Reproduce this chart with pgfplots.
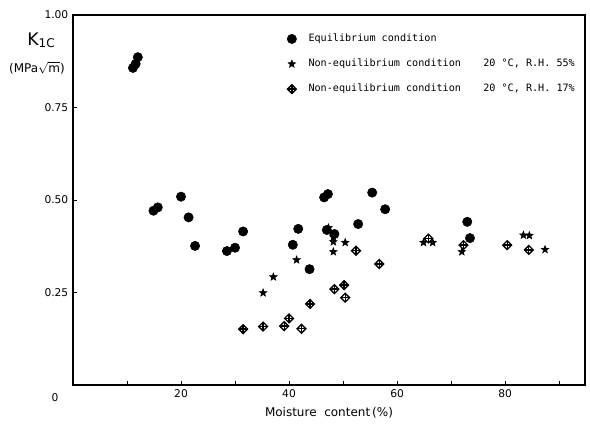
\documentclass[border=0pt]{standalone}
\usepackage{fontspec}
\usepackage{amsmath}
\usepackage{pgfplots}
\pgfplotsset{compat=1.18}
\setmainfont{DejaVu Sans}
\newfontfamily\legfont{DejaVu Sans Mono}

% filled five-point star
\pgfdeclareplotmark{fstar}{%
  \pgfpathmoveto{\pgfpointpolar{90}{\pgfplotmarksize}}%
  \pgfpathlineto{\pgfpointpolar{126}{0.42\pgfplotmarksize}}%
  \pgfpathlineto{\pgfpointpolar{162}{\pgfplotmarksize}}%
  \pgfpathlineto{\pgfpointpolar{198}{0.42\pgfplotmarksize}}%
  \pgfpathlineto{\pgfpointpolar{234}{\pgfplotmarksize}}%
  \pgfpathlineto{\pgfpointpolar{270}{0.42\pgfplotmarksize}}%
  \pgfpathlineto{\pgfpointpolar{306}{\pgfplotmarksize}}%
  \pgfpathlineto{\pgfpointpolar{342}{0.42\pgfplotmarksize}}%
  \pgfpathlineto{\pgfpointpolar{18}{\pgfplotmarksize}}%
  \pgfpathlineto{\pgfpointpolar{54}{0.42\pgfplotmarksize}}%
  \pgfpathclose
  \pgfusepathqfillstroke}

% diamond with a cross inside
\pgfdeclareplotmark{dplus}{%
  \pgfpathmoveto{\pgfqpoint{0pt}{\pgfplotmarksize}}%
  \pgfpathlineto{\pgfqpoint{\pgfplotmarksize}{0pt}}%
  \pgfpathlineto{\pgfqpoint{0pt}{-\pgfplotmarksize}}%
  \pgfpathlineto{\pgfqpoint{-\pgfplotmarksize}{0pt}}%
  \pgfpathclose
  \pgfusepathqfillstroke
  \pgfpathmoveto{\pgfqpoint{0pt}{\pgfplotmarksize}}%
  \pgfpathlineto{\pgfqpoint{0pt}{-\pgfplotmarksize}}%
  \pgfpathmoveto{\pgfqpoint{-\pgfplotmarksize}{0pt}}%
  \pgfpathlineto{\pgfqpoint{\pgfplotmarksize}{0pt}}%
  \pgfusepathqstroke}

\begin{document}
\begin{tikzpicture}[x=0.75pt,y=0.75pt]
\begin{axis}[
    scale only axis,
    width=384pt,
    height=277.5pt,
    at={(0,0)}, anchor=south west,
    xmin=0, xmax=94.8,
    ymin=0, ymax=1,
    axis line style={line width=0.9pt},
    tick style={black, line width=0.7pt},
    tick align=inside,
    major tick length=3pt,
    minor tick length=3pt,
    xtick={20,40,60,80},
    minor xtick={10,30,50,70,90},
    ytick={0.25,0.5,0.75,1},
    yticklabels={0.25,0.50,0.75,1.00},
    xtick pos=bottom,
    ytick pos=left,
    ticklabel style={font=\fontsize{8}{9}\selectfont},
    /pgf/number format/assume math mode=true,
    xlabel={Moisture\ \ content\,(\%)},
    xlabel style={font=\fontsize{9}{10}\selectfont, yshift=0pt},
    legend style={at={(0.41,0.96)}, anchor=north west, draw=none, fill=none,
        font=\legfont\fontsize{7.6}{9}\selectfont, row sep=9.5pt,
        nodes={inner sep=1pt},
        /tikz/every odd column/.append style={column sep=8pt}},
    legend cell align=left,
    legend image code/.code={\draw[#1] plot coordinates {(0.1cm,0cm)};},
]
\addplot[only marks, mark=*, mark size=3.5pt, black] coordinates {
(11.1,0.857) (11.6,0.868) (12.0,0.886) (14.9,0.471) (15.7,0.480)
(20.0,0.509) (21.4,0.453) (22.6,0.376) (28.5,0.362) (30.0,0.371)
(31.5,0.415) (40.7,0.379) (41.7,0.422) (43.8,0.313) (46.5,0.507)
(47.2,0.516) (47.0,0.419) (48.4,0.408) (52.8,0.435) (55.4,0.520)
(57.8,0.475) (73.0,0.441) (73.5,0.397)};
\addlegendentry{Equilibrium condition}
\addplot[only marks, mark=fstar, mark size=3pt, black, fill=black] coordinates {
(35.2,0.249) (37.1,0.292) (41.4,0.338) (47.3,0.425) (48.2,0.400)
(48.2,0.387) (48.2,0.360) (50.4,0.385) (64.9,0.385) (66.6,0.385)
(72.0,0.360) (83.4,0.405) (84.5,0.404) (87.4,0.366)};
\addlegendentry{Non-equilibrium condition\hspace{2.2em}20 °C, R.H. 55\%}
\addplot[only marks, mark=dplus, mark size=3.3pt, black, fill=white,
    mark options={line width=1pt}] coordinates {
(31.5,0.151) (35.2,0.158) (39.1,0.159) (40.0,0.180) (42.3,0.152)
(43.9,0.219) (48.4,0.259) (50.2,0.270) (50.4,0.236) (52.4,0.363)
(56.7,0.327) (65.8,0.396) (72.3,0.378) (80.4,0.378) (84.4,0.365)};
\addlegendentry{Non-equilibrium condition\hspace{2.2em}20 °C, R.H. 17\%}
\end{axis}
\node[font=\fontsize{8}{9}\selectfont] at (-18,-13) {0};
\node[font=\fontsize{13}{14}\selectfont] at (-32,345) {K\raisebox{-0.25ex}{\fontsize{9}{10}\selectfont 1C}};
\node[font=\fontsize{9}{10}\selectfont] at (-36,317) {(MPa$\sqrt{\text{m}}$)};
\pgfresetboundingbox
\useasboundingbox (-73,-43) rectangle (517,385);
\end{tikzpicture}
\end{document}
